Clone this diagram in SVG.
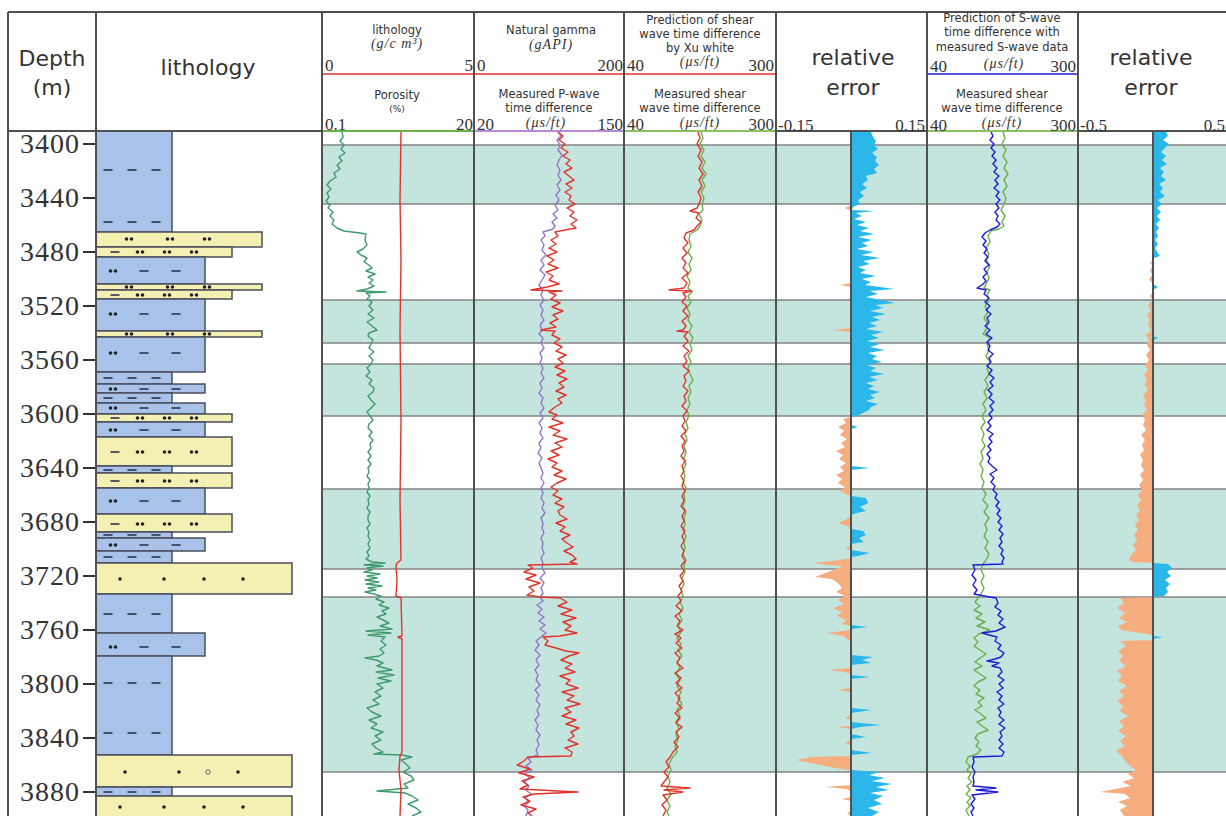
<svg xmlns="http://www.w3.org/2000/svg" xmlns:xlink="http://www.w3.org/1999/xlink" width="1226" height="816" viewBox="0 0 1226 816">
<style>
.t{font-family:"DejaVu Sans",sans-serif;fill:#333}
.s{font-size:11.5px}
.b{font-size:22px}
.n{font-family:"Liberation Serif",serif;font-size:17px;fill:#333}
.u{font-family:"Liberation Serif",serif;font-style:italic;font-size:14px;fill:#333;letter-spacing:1px}
.d{font-family:"Liberation Serif",serif;font-size:28px;fill:#333;letter-spacing:1px}
.band{fill:#c4e4de}
.hl{stroke:#858585;stroke-width:1.3}
.vl{stroke:#505050;stroke-width:2}
.cv{fill:none;stroke-width:1.4;stroke-linejoin:round}
.blu{fill:#a9c2ea;stroke:#4a4c5c;stroke-width:1.5}
.yel{fill:#f4f0b4;stroke:#4a4c5c;stroke-width:1.5}
.dash{stroke:#2d3548;stroke-width:1.6}
.pos{fill:#2cb7ea}
.neg{fill:#f6ad80}
</style>
<defs>
<g id="pair"><circle cx="-2.5" cy="0" r="1.8" fill="#222"/><circle cx="2.5" cy="0" r="1.8" fill="#222"/></g>
<line id="dsh" x1="-4.5" y1="0" x2="4.5" y2="0" class="dash"/>
<g id="p3"><use xlink:href="#dsh" x="108"/><use xlink:href="#dsh" x="132"/><use xlink:href="#dsh" x="156"/></g>
<g id="pm"><use xlink:href="#pair" x="113"/><use xlink:href="#dsh" x="144"/><use xlink:href="#dsh" x="176"/></g>
<g id="py"><use xlink:href="#dsh" x="115"/><use xlink:href="#pair" x="140"/><use xlink:href="#pair" x="167"/><use xlink:href="#pair" x="194"/></g>
<g id="pw"><use xlink:href="#pair" x="129"/><use xlink:href="#pair" x="170"/><use xlink:href="#pair" x="207"/></g>
<g id="ps"><circle cx="120" cy="0" r="1.8" fill="#222"/><circle cx="164" cy="0" r="1.8" fill="#222"/><circle cx="204" cy="0" r="1.8" fill="#222"/><circle cx="243" cy="0" r="1.8" fill="#222"/></g>
</defs>
<rect x="0" y="0" width="1226" height="816" fill="#fff"/>

<g id="bands">
<rect class="band" x="322" y="145" width="904" height="59"/>
<rect class="band" x="322" y="300" width="904" height="43"/>
<rect class="band" x="322" y="364" width="904" height="52"/>
<rect class="band" x="322" y="489" width="904" height="80"/>
<rect class="band" x="322" y="597" width="904" height="175"/>
<g class="hl">
<line x1="322" y1="145" x2="1226" y2="145"/><line x1="322" y1="204" x2="1226" y2="204"/>
<line x1="322" y1="300" x2="1226" y2="300"/><line x1="322" y1="343" x2="1226" y2="343"/>
<line x1="322" y1="364" x2="1226" y2="364"/><line x1="322" y1="416" x2="1226" y2="416"/>
<line x1="322" y1="489" x2="1226" y2="489"/><line x1="322" y1="569" x2="1226" y2="569"/>
<line x1="322" y1="597" x2="1226" y2="597"/><line x1="322" y1="772" x2="1226" y2="772"/>
</g>
</g>

<g id="track1-curves">
<polyline class="cv" stroke="#3f9a6e" points="342,132 343,137 340,141 344,145 341,149 345,153 339,157 342,161 337,165 340,169 334,173 336,177 330,181 327,185 331,189 327,193 329,197 326,201 330,205 328,208 333,212 330,216 334,220 332,224 337,228 344,231 352,232 360,233 366,234 365,240 367,245 363,249 357,252 361,255 367,258 364,262 369,265 372,268 366,271 375,274 368,277 373,280 369,283 374,286 367,289 357,291 386,292 366,293 370,296 367,299 372,302 369,306 373,310 368,314 374,318 367,322 372,326 377,330 369,333 368,336 373,340 371,344 369,348 374,352 369,356 373,360 371,364 367,368 370,372 366,376 372,380 369,384 374,388 373,392 368,396 371,400 375,404 371,408 367,412 370,416 373,420 369,424 368,428 372,432 369,436 373,440 370,444 371,448 368,452 371,456 368,460 371,464 368,468 369,472 367,476 370,480 368,484 369,488 367,492 370,496 368,500 369,504 367,508 370,512 368,516 368,520 370,524 367,528 369,532 368,536 370,540 368,544 370,548 367,552 369,556 366,559 372,562 385,563 364,565 383,566 367,568 372,570 364,572 380,574 367,576 377,578 365,580 379,582 366,584 382,586 368,588 376,590 365,592 374,594 381,596 376,599 384,602 379,605 389,608 382,611 386,614 377,617 383,620 389,623 380,626 392,629 366,631 391,633 368,635 385,637 381,641 386,645 380,649 384,653 379,656 365,658 376,660 383,663 377,666 392,670 376,672 394,675 378,678 391,681 377,684 383,688 375,692 381,696 373,700 379,704 367,708 372,712 381,716 369,720 377,724 371,728 383,732 375,736 381,740 372,744 376,748 383,752 374,754 402,755 412,757 401,760 406,764 410,768 403,772 411,776 414,780 404,784 408,788 377,791 405,793 412,796 418,800 408,804 416,808 421,812 412,816"/>
<polyline class="cv" stroke="#e2332b" points="401,132 400,200 401,260 400,330 401,420 400,500 401,560 397,563 396,566 397,580 396,596 401,598 402,636 398,637 402,639 402,752 400,756 399,770 401,790 400,816"/>
</g>

<g id="track2-curves">
<polyline class="cv" stroke="#9474c9" points="558,132 561,136 557,140 560,145 558,150 562,155 559,160 557,165 560,170 558,175 561,180 557,185 560,190 556,195 559,200 555,205 558,210 553,214 557,218 552,222 555,226 553,229 543,232 545,236 541,240 544,245 542,250 546,255 541,260 544,265 540,270 545,275 542,280 539,285 543,290 541,295 544,300 540,305 543,310 541,315 544,320 540,325 542,330 539,334 543,338 541,343 544,348 540,353 542,358 540,363 543,368 541,373 544,378 540,383 542,388 539,393 543,398 541,403 544,408 540,413 543,418 539,423 542,428 540,433 543,438 539,443 541,448 538,453 542,458 539,463 541,468 543,473 541,478 544,483 541,488 543,493 541,498 544,503 542,508 545,513 541,518 543,523 542,528 544,533 541,538 543,543 542,548 544,553 541,558 543,563 542,568 545,573 540,578 544,583 541,588 543,593 540,597 543,601 537,605 542,609 538,613 544,617 539,621 545,625 540,629 546,633 541,637 536,641 539,645 535,650 540,655 536,660 539,665 535,670 538,675 536,680 540,685 535,690 539,695 536,700 540,705 537,710 539,715 535,720 538,725 536,730 540,735 537,740 539,745 536,750 538,755 528,758 531,762 526,766 532,770 525,774 530,778 524,782 529,786 526,790 531,794 525,798 529,802 524,806 528,810 526,816"/>
<polyline class="cv" stroke="#e2332b" points="558,132 563,136 559,140 565,144 561,148 568,152 563,156 570,160 566,164 572,168 564,172 569,176 574,180 566,184 572,188 565,192 571,196 569,200 575,204 567,208 574,212 570,216 577,220 571,224 576,228 565,230 555,232 558,236 551,240 556,244 549,248 557,252 547,256 554,260 548,264 558,268 546,272 553,276 549,280 559,284 547,287 531,290 562,291 549,292 556,295 551,299 560,303 552,307 563,311 553,315 558,319 550,323 556,327 541,330 555,331 552,335 560,339 554,343 562,347 556,351 566,355 558,359 563,363 555,367 565,371 557,375 567,379 559,383 564,387 556,391 566,395 558,399 562,403 555,407 549,412 557,415 552,419 563,423 549,427 560,431 553,435 567,439 555,443 562,447 551,451 559,455 548,459 557,463 552,467 562,471 554,475 566,479 557,483 551,487 558,491 553,495 562,499 555,503 564,507 558,511 560,515 567,519 556,523 565,527 560,531 570,535 562,539 567,543 573,547 564,551 572,555 576,559 570,562 577,564 528,565 533,568 524,572 536,575 526,579 540,583 529,587 534,591 527,595 540,597 560,598 567,602 558,606 572,610 561,614 576,618 563,622 571,626 565,630 577,633 560,636 543,637 548,641 545,645 556,648 566,651 579,653 569,656 561,660 572,664 565,668 575,672 560,676 570,680 566,684 578,688 562,692 574,696 567,700 580,704 565,708 571,712 562,716 576,720 566,724 579,728 571,732 574,736 568,740 578,744 565,748 572,752 571,756 528,757 524,761 517,765 530,769 519,773 534,777 522,781 528,785 520,789 578,792 534,794 523,797 530,801 521,805 536,809 528,813 532,816"/>
</g>

<g id="track3-curves">
<polyline class="cv" stroke="#6ab04c" points="701,132 703,138 700,144 704,150 701,156 705,162 702,168 706,174 702,180 705,186 701,192 704,198 702,204 703,210 699,214 702,220 700,226 697,230 690,234 689,240 691,246 688,252 692,258 689,264 691,270 687,276 690,282 688,288 692,292 688,296 691,302 687,308 690,314 688,320 692,326 689,332 693,338 690,344 692,350 688,356 691,362 688,368 690,374 693,380 689,386 691,392 688,398 690,404 687,410 689,416 686,422 688,428 685,434 687,440 684,446 686,452 684,458 686,464 683,470 685,476 683,482 686,488 684,494 685,500 683,506 686,512 684,518 685,524 683,530 686,536 684,542 685,548 683,554 686,560 684,566 685,572 682,578 684,584 681,590 683,596 680,602 683,608 679,614 682,620 678,626 681,632 677,638 681,644 678,650 682,656 677,662 680,668 676,674 680,680 677,686 681,692 678,698 682,704 677,710 680,716 676,722 679,728 676,734 678,740 675,746 677,752 672,758 669,764 671,770 668,776 670,782 667,788 671,794 667,800 670,806 667,812 669,816"/>
<polyline class="cv" stroke="#e2332b" points="698,132 700,138 697,144 701,150 698,156 702,162 699,168 703,174 699,180 702,186 698,192 701,198 699,204 697,208 690,211 699,213 696,218 701,222 697,226 694,230 686,233 684,238 688,243 683,248 687,253 682,258 686,263 683,268 688,273 682,278 687,283 684,288 669,290 692,291 683,293 686,297 682,302 687,306 683,311 688,316 682,321 686,326 683,330 677,331 688,332 684,336 688,341 683,346 689,351 684,356 687,361 683,366 689,371 684,376 686,381 683,386 688,391 684,396 686,401 682,406 687,411 683,416 685,421 682,426 686,431 681,436 685,441 682,446 684,451 681,456 685,461 682,466 684,471 681,476 684,481 682,486 685,491 682,496 684,501 681,506 685,511 682,516 684,521 681,526 685,531 682,536 684,541 681,546 684,551 682,556 685,561 681,566 684,571 680,576 683,581 679,586 682,591 678,596 681,601 676,606 682,611 675,616 680,621 677,626 683,630 675,634 681,638 676,643 682,648 675,653 680,658 677,663 683,668 675,673 681,678 676,683 682,688 675,693 680,698 677,703 682,708 675,713 680,718 676,723 682,727 676,732 679,737 674,742 678,747 673,752 670,757 666,762 669,767 664,772 668,777 664,782 661,786 690,788 664,790 683,792 663,795 667,800 662,805 666,810 663,816"/>
</g>

<g id="track4-error">
<polygon class="pos" points="851,132 871,132 873,137 876,141 874,145 878,149 872,153 877,157 875,161 879,165 874,169 877,173 866,176 868,180 862,184 867,188 860,192 864,196 858,200 860,204 853,207 852,210 875,211 856,213 862,216 854,219 866,222 857,225 869,228 860,231 874,234 858,237 872,240 862,243 868,246 857,249 874,252 861,255 880,258 863,261 870,264 858,267 866,270 860,273 876,276 862,279 871,282 865,285 895,289 870,291 878,294 866,297 881,300 895,303 875,305 883,308 870,311 886,314 872,317 880,320 869,323 877,326 866,329 883,332 871,335 879,338 867,341 880,344 870,347 885,350 868,353 877,356 872,359 882,362 867,365 876,368 870,371 884,374 869,377 878,380 866,383 874,386 868,389 880,392 870,395 875,398 866,401 878,404 871,407 869,410 863,413 857,416 851,417 851,425 858,427 851,429 851,466 870,468 851,470 851,496 866,498 868,503 860,507 866,511 857,513 851,515 851,529 863,531 866,535 859,538 864,542 851,544 851,550 870,553 858,556 851,557 851,625 868,627 851,629 851,655 873,657 862,660 871,663 851,665 851,675 870,677 851,679 851,708 872,710 858,712 851,713 851,722 881,725 860,727 851,729 851,734 866,737 851,739 851,750 872,753 851,755 851,770 880,772 869,775 885,778 872,781 892,784 876,787 889,790 870,793 883,796 874,800 882,804 868,808 879,812 872,816 851,816"/>
<polygon class="neg" points="851,205 845,208 851,211 851,283 840,285 851,287 851,328 833,330 851,332 851,417 843,419 846,423 838,427 844,431 840,435 847,439 841,443 845,447 836,451 843,455 839,459 846,463 840,467 844,471 836,475 842,479 838,483 845,487 840,491 848,495 851,496 851,516 847,519 838,523 848,526 851,528 851,545 846,548 851,551 851,558 840,560 813,563 828,565 843,566 836,569 815,577 832,579 838,583 842,588 836,592 845,596 838,600 844,604 833,608 842,612 837,616 846,620 842,624 851,626 851,630 827,633 843,636 849,640 851,642 851,668 828,670 845,672 851,674 851,688 838,690 851,692 851,715 845,718 851,720 851,726 837,727 851,729 851,740 845,743 851,745 851,756 812,757 796,760 815,764 835,768 851,770 851,785 825,787 846,789 851,791 851,797 842,799 851,801 851,811 847,813 851,816"/>
<line x1="851" y1="131" x2="851" y2="816" class="vl"/>
</g>

<g id="track5-curves">
<polyline class="cv" stroke="#6ab04c" points="1003,132 1005,138 1002,144 1006,150 1003,156 1007,162 1004,168 1008,174 1004,180 1007,186 1003,192 1006,198 1004,204 1001,210 1005,216 1002,222 1004,226 999,229 991,231 988,236 990,242 986,248 989,254 986,260 990,266 987,272 989,278 986,284 984,288 990,290 987,294 989,300 985,306 988,312 984,318 988,324 986,330 983,334 990,338 987,344 989,350 986,356 990,362 987,368 989,374 985,380 988,386 984,392 987,398 983,404 986,410 982,416 985,422 981,428 984,434 982,440 985,446 981,452 983,458 980,464 983,470 981,476 984,482 982,488 986,494 983,500 988,506 984,512 989,518 985,524 987,530 984,536 988,542 985,548 989,554 986,560 983,564 981,570 984,576 981,582 984,588 981,594 978,598 975,602 980,606 974,610 982,614 976,618 985,622 977,626 990,630 979,634 974,638 978,642 974,646 980,650 986,654 980,658 975,662 982,666 974,670 980,674 986,678 978,682 974,686 980,690 976,694 984,698 978,702 982,706 975,710 981,714 986,718 977,722 982,726 988,730 978,734 975,738 979,742 976,746 981,750 977,754 968,757 966,762 970,766 967,770 971,774 968,778 972,782 967,786 970,790 966,794 971,798 967,802 970,806 966,810 969,816"/>
<polyline class="cv" stroke="#1c1cd8" points="991,132 993,136 990,140 994,144 991,148 995,152 992,156 996,160 993,164 997,168 994,172 999,176 995,180 998,184 994,188 999,192 996,196 1000,200 996,204 999,208 995,212 998,216 996,220 1000,224 997,227 990,230 985,233 982,237 986,241 983,245 987,249 984,253 988,257 985,261 989,265 984,269 987,273 983,277 986,281 982,285 977,288 986,290 984,294 989,298 985,302 990,306 986,310 991,314 987,318 989,322 985,326 990,330 986,334 992,338 987,342 990,346 988,350 993,354 989,358 991,362 987,366 992,370 989,374 994,378 990,382 993,386 988,390 992,394 989,398 994,402 990,406 993,410 989,414 992,418 988,422 991,426 987,430 993,434 989,438 992,442 988,446 991,450 987,454 990,458 988,462 992,466 997,470 990,474 994,478 991,482 995,486 993,490 997,494 995,498 999,502 996,506 1000,510 997,514 1001,518 998,522 1002,526 999,530 1003,534 1000,538 1002,542 999,546 1003,550 1001,554 1004,558 1002,562 1003,564 973,565 975,570 972,575 976,580 973,585 977,590 974,594 990,597 996,598 998,603 995,607 1001,611 998,615 1003,619 999,623 1005,627 996,631 982,633 989,635 997,637 995,641 1001,645 998,649 1004,653 1001,657 995,659 987,661 999,663 992,666 1000,668 1002,672 998,676 1004,680 999,684 1003,688 997,692 1002,696 999,700 1004,704 998,708 1001,712 999,716 1004,720 999,724 1005,728 1000,732 1002,736 999,740 1003,744 999,748 1004,752 1002,756 973,757 974,762 972,767 975,772 973,777 974,782 973,786 996,788 976,790 998,792 972,795 975,799 971,804 974,808 971,812 973,816"/>
</g>

<g id="track6-error">
<polygon class="pos" points="1153,132 1166,132 1168,136 1163,140 1169,144 1165,148 1161,152 1166,156 1162,160 1167,164 1160,168 1164,172 1161,176 1166,180 1159,184 1163,188 1160,192 1165,196 1158,200 1162,204 1157,208 1161,212 1157,216 1160,220 1156,224 1159,228 1156,232 1158,236 1155,240 1158,244 1155,248 1157,252 1160,256 1154,258 1153,260 1153,284 1158,287 1153,290 1153,336 1158,338 1153,340 1153,563 1168,564 1172,568 1167,572 1171,576 1165,580 1170,584 1166,588 1168,592 1164,596 1153,597 1153,636 1163,637 1153,639"/>
<polygon class="neg" points="1153,260 1150,263 1153,266 1150,270 1152,275 1149,280 1153,283 1153,292 1150,296 1152,300 1148,305 1151,310 1147,315 1150,320 1148,325 1151,330 1146,335 1149,340 1147,345 1150,350 1146,355 1149,360 1145,365 1148,370 1144,375 1147,380 1145,385 1148,390 1143,395 1146,400 1144,405 1147,410 1142,415 1145,420 1143,425 1146,430 1141,435 1145,440 1142,445 1144,450 1140,455 1143,460 1141,465 1144,470 1140,475 1143,480 1139,485 1142,490 1138,495 1141,500 1137,505 1140,510 1136,515 1139,520 1135,525 1138,530 1134,535 1137,540 1133,545 1136,550 1131,555 1129,560 1133,562 1153,563 1153,597 1120,598 1124,603 1117,608 1125,613 1119,618 1127,622 1118,626 1121,630 1140,633 1153,635 1153,640 1120,641 1126,646 1118,651 1123,656 1119,661 1126,666 1117,671 1122,676 1118,681 1127,686 1119,691 1124,696 1117,701 1123,706 1120,711 1128,716 1119,721 1124,726 1118,731 1126,736 1120,741 1125,746 1116,751 1122,756 1125,761 1130,766 1136,770 1128,774 1134,778 1122,782 1131,786 1100,792 1125,794 1130,798 1118,802 1127,806 1120,810 1124,816 1153,816"/>
<line x1="1153" y1="131" x2="1153" y2="816" class="vl"/>
</g>

<g id="lithology-column">
<rect class="blu" x="96" y="131" width="76" height="101"/>
<use xlink:href="#p3" y="170"/><use xlink:href="#p3" y="222"/>
<rect class="yel" x="96" y="232" width="166" height="15"/><use xlink:href="#pw" y="239"/>
<rect class="yel" x="96" y="247" width="136" height="10"/><use xlink:href="#py" y="252"/>
<rect class="blu" x="96" y="257" width="109" height="27"/><use xlink:href="#pm" y="271"/>
<rect class="yel" x="96" y="284" width="166" height="6"/><use xlink:href="#pw" y="287"/>
<rect class="yel" x="96" y="290" width="136" height="9"/><use xlink:href="#py" y="295"/>
<rect class="blu" x="96" y="299" width="109" height="32"/><use xlink:href="#pm" y="314"/>
<rect class="yel" x="96" y="331" width="166" height="6"/><use xlink:href="#pw" y="334"/>
<rect class="blu" x="96" y="337" width="109" height="35"/><use xlink:href="#pm" y="353"/>
<rect class="blu" x="96" y="372" width="76" height="12"/><use xlink:href="#p3" y="378"/>
<rect class="blu" x="96" y="384" width="109" height="9"/><use xlink:href="#pm" y="389"/>
<rect class="blu" x="96" y="393" width="76" height="10"/><use xlink:href="#p3" y="398"/>
<rect class="blu" x="96" y="403" width="109" height="11"/><use xlink:href="#pm" y="408"/>
<rect class="yel" x="96" y="414" width="136" height="8"/><use xlink:href="#py" y="418"/>
<rect class="blu" x="96" y="422" width="109" height="15"/><use xlink:href="#pm" y="430"/>
<rect class="yel" x="96" y="437" width="136" height="29"/><use xlink:href="#py" y="452"/>
<rect class="blu" x="96" y="466" width="76" height="7"/><use xlink:href="#p3" y="470"/>
<rect class="yel" x="96" y="473" width="136" height="15"/><use xlink:href="#py" y="481"/>
<rect class="blu" x="96" y="488" width="109" height="26"/><use xlink:href="#pm" y="501"/>
<rect class="yel" x="96" y="514" width="136" height="18"/><use xlink:href="#py" y="524"/>
<rect class="blu" x="96" y="532" width="76" height="6"/><use xlink:href="#p3" y="535"/>
<rect class="blu" x="96" y="538" width="109" height="13"/><use xlink:href="#pm" y="545"/>
<rect class="blu" x="96" y="551" width="76" height="12"/><use xlink:href="#p3" y="557"/>
<rect class="yel" x="96" y="563" width="196" height="31"/><use xlink:href="#ps" y="579"/>
<rect class="blu" x="96" y="594" width="76" height="39"/><use xlink:href="#p3" y="614"/>
<rect class="blu" x="96" y="633" width="109" height="23"/><use xlink:href="#pm" y="647"/>
<rect class="blu" x="96" y="656" width="76" height="99"/><use xlink:href="#p3" y="683"/><use xlink:href="#p3" y="733"/>
<rect class="yel" x="96" y="755" width="196" height="32"/>
<circle cx="125" cy="772" r="1.8" fill="#222"/><circle cx="179" cy="772" r="1.8" fill="#222"/><circle cx="208" cy="772" r="2.2" fill="none" stroke="#555" stroke-width="0.9"/><circle cx="238" cy="772" r="1.8" fill="#222"/>
<rect class="blu" x="96" y="787" width="76" height="9"/><use xlink:href="#p3" y="792"/>
<rect class="yel" x="96" y="796" width="196" height="30"/><use xlink:href="#ps" y="807"/>
</g>

<g id="depth-column">
<g stroke="#333" stroke-width="2">
<line x1="83" y1="144" x2="96" y2="144"/><line x1="83" y1="198" x2="96" y2="198"/><line x1="83" y1="252" x2="96" y2="252"/><line x1="83" y1="306" x2="96" y2="306"/><line x1="83" y1="360" x2="96" y2="360"/><line x1="83" y1="414" x2="96" y2="414"/><line x1="83" y1="468" x2="96" y2="468"/><line x1="83" y1="522" x2="96" y2="522"/><line x1="83" y1="576" x2="96" y2="576"/><line x1="83" y1="630" x2="96" y2="630"/><line x1="83" y1="684" x2="96" y2="684"/><line x1="83" y1="738" x2="96" y2="738"/><line x1="83" y1="792" x2="96" y2="792"/>
</g>
<g class="d" text-anchor="end">
<text x="80" y="153">3400</text><text x="80" y="207">3440</text><text x="80" y="261">3480</text><text x="80" y="315">3520</text><text x="80" y="369">3560</text><text x="80" y="423">3600</text><text x="80" y="477">3640</text><text x="80" y="531">3680</text><text x="80" y="585">3720</text><text x="80" y="639">3760</text><text x="80" y="693">3800</text><text x="80" y="747">3840</text><text x="80" y="801">3880</text>
</g>
</g>

<g id="frame">
<line x1="8" y1="12" x2="1226" y2="12" class="vl"/>
<line x1="8" y1="131" x2="1226" y2="131" class="vl"/>
<line x1="8" y1="12" x2="8" y2="816" class="vl"/>
<line x1="96" y1="12" x2="96" y2="816" class="vl"/>
<line x1="322" y1="12" x2="322" y2="816" class="vl"/>
<line x1="474" y1="12" x2="474" y2="816" class="vl"/>
<line x1="624" y1="12" x2="624" y2="816" class="vl"/>
<line x1="776" y1="12" x2="776" y2="816" class="vl"/>
<line x1="927" y1="12" x2="927" y2="816" class="vl"/>
<line x1="1078" y1="12" x2="1078" y2="816" class="vl"/>
<line x1="323" y1="74" x2="473" y2="74" stroke="#e2332b" stroke-width="1.6"/>
<line x1="475" y1="74" x2="623" y2="74" stroke="#e2332b" stroke-width="1.6"/>
<line x1="625" y1="74" x2="775" y2="74" stroke="#e2332b" stroke-width="1.6"/>
<line x1="928" y1="74" x2="1077" y2="74" stroke="#1c1cd8" stroke-width="1.6"/>
<line x1="323" y1="131" x2="473" y2="131" stroke="#6ab04c" stroke-width="2"/>
<line x1="475" y1="131" x2="623" y2="131" stroke="#b58ad6" stroke-width="2"/>
<line x1="625" y1="131" x2="775" y2="131" stroke="#8ac060" stroke-width="2"/>
<line x1="928" y1="131" x2="1077" y2="131" stroke="#8ac060" stroke-width="2"/>
</g>

<g id="header">
<text class="t b" x="52" y="66" text-anchor="middle">Depth</text>
<text class="t b" x="52" y="95" text-anchor="middle">(m)</text>
<text class="t b" x="208" y="75" text-anchor="middle">lithology</text>

<text class="t s" x="397" y="34" text-anchor="middle">lithology</text>
<text class="u" x="397" y="48" text-anchor="middle">(g/c m³)</text>
<text class="n" x="325" y="71">0</text><text class="n" x="473" y="71" text-anchor="end">5</text>
<text class="t s" x="397" y="99" text-anchor="middle">Porosity</text>
<text class="t" style="font-size:9px" x="397" y="112" text-anchor="middle">(%)</text>
<text class="n" x="325" y="130">0.1</text><text class="n" x="473" y="130" text-anchor="end">20</text>

<text class="t s" x="551" y="34" text-anchor="middle">Natural gamma</text>
<text class="u" x="551" y="49" text-anchor="middle">(gAPI)</text>
<text class="n" x="477" y="71">0</text><text class="n" x="623" y="71" text-anchor="end">200</text>
<text class="t s" x="549" y="98" text-anchor="middle">Measured P-wave</text>
<text class="t s" x="549" y="112" text-anchor="middle">time difference</text>
<text class="u" x="546" y="127" text-anchor="middle">(μs/ft)</text>
<text class="n" x="477" y="130">20</text><text class="n" x="623" y="130" text-anchor="end">150</text>

<text class="t s" x="700" y="24" text-anchor="middle">Prediction of shear</text>
<text class="t s" x="700" y="38" text-anchor="middle">wave time difference</text>
<text class="t s" x="700" y="52" text-anchor="middle">by Xu white</text>
<text class="u" x="700" y="66" text-anchor="middle">(μs/ft)</text>
<text class="n" x="627" y="71">40</text><text class="n" x="774" y="71" text-anchor="end">300</text>
<text class="t s" x="700" y="98" text-anchor="middle">Measured shear</text>
<text class="t s" x="700" y="112" text-anchor="middle">wave time difference</text>
<text class="u" x="700" y="127" text-anchor="middle">(μs/ft)</text>
<text class="n" x="627" y="130">40</text><text class="n" x="774" y="130" text-anchor="end">300</text>

<text class="t b" x="853" y="65" text-anchor="middle">relative</text>
<text class="t b" x="853" y="95" text-anchor="middle">error</text>
<text class="n" x="778" y="131">-0.15</text><text class="n" x="925" y="131" text-anchor="end">0.15</text>

<text class="t s" x="1002" y="22" text-anchor="middle">Prediction of S-wave</text>
<text class="t s" x="1002" y="36" text-anchor="middle">time difference with</text>
<text class="t s" x="1002" y="51" text-anchor="middle">measured S-wave data</text>
<text class="u" x="1004" y="68" text-anchor="middle">(μs/ft)</text>
<text class="n" x="930" y="72">40</text><text class="n" x="1076" y="72" text-anchor="end">300</text>
<text class="t s" x="1002" y="98" text-anchor="middle">Measured shear</text>
<text class="t s" x="1002" y="112" text-anchor="middle">wave time difference</text>
<text class="u" x="1002" y="127" text-anchor="middle">(μs/ft)</text>
<text class="n" x="930" y="131">40</text><text class="n" x="1076" y="131" text-anchor="end">300</text>

<text class="t b" x="1151" y="65" text-anchor="middle">relative</text>
<text class="t b" x="1151" y="95" text-anchor="middle">error</text>
<text class="n" x="1080" y="131">-0.5</text><text class="n" x="1225" y="131" text-anchor="end">0.5</text>
</g>
</svg>
